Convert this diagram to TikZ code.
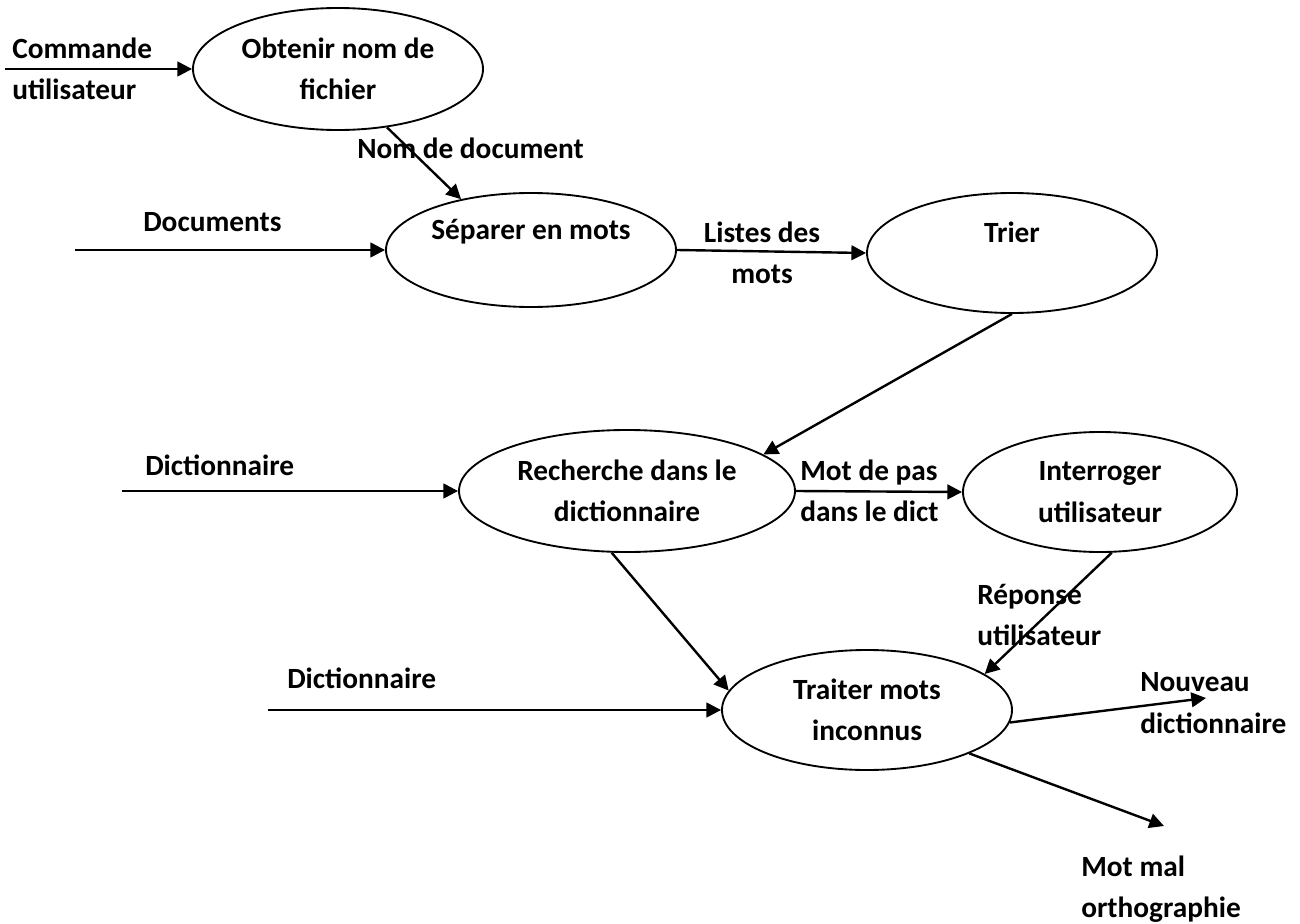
\documentclass[tikz,border=0pt]{standalone}
\usepackage{fontspec}
\setmainfont{Carlito}
\usetikzlibrary{shapes.geometric,arrows.meta}
\begin{document}
\begin{tikzpicture}[x=0.75pt,y=-0.75pt,
  every node/.style={font=\fontsize{22}{31}\selectfont\bfseries},
  proc/.style 2 args={ellipse,draw,line width=1.4pt,inner sep=0pt,
    minimum width={#1*1.5pt},minimum height={#2*1.5pt},align=center},
  flow/.style={line width=1.8pt,-{Triangle[length=11pt,width=11pt]}},
  lbl/.style={align=left,anchor=west,inner sep=0pt}]
\useasboundingbox (0,0) rectangle (1300,924);

% processes
\node[proc={145}{61}] (obtenir)    at (338,69)  {Obtenir nom de\\fichier};
\node[proc={145}{57}] (separer)    at (531,250) {Séparer en mots\\\mbox{}};
\node[proc={145}{60}] (trier)      at (1012,253) {Trier\\\mbox{}};
\node[proc={168}{61}] (recherche)  at (627,491) {Recherche dans le\\dictionnaire};
\node[proc={137}{60}] (interroger) at (1100,492) {Interroger\\utilisateur};
\node[proc={145}{60}] (traiter)    at (867,710) {Traiter mots\\inconnus};

% free ends of the flows
\coordinate (in-cmd)      at (5,69);
\coordinate (in-docs)     at (75,250);
\coordinate (in-dict1)    at (122,491);
\coordinate (in-dict2)    at (268,710);
\coordinate (out-nouveau) at (1206,698);
\coordinate (out-motmal)  at (1164,826);

% flows
\draw[flow] (in-cmd) -- (obtenir.west);
\draw[flow] (obtenir.-50) -- (separer.144);
\draw[flow] (in-docs) -- (separer.west);
\draw[flow] (separer.east) -- (trier.west);
\draw[flow] (trier.south) -- (recherche.15);
\draw[flow] (in-dict1) -- (recherche.west);
\draw[flow] (recherche.east) -- (interroger.west);
\draw[flow] (interroger.-79) -- (traiter.17);
\draw[flow] (recherche.-104) -- (traiter.172);
\draw[flow] (in-dict2) -- (traiter.west);
\draw[flow] (traiter.-5) -- (out-nouveau);
\draw[flow] (traiter.-23) -- (out-motmal);

% flow labels
\node[lbl] (l-cmd)     at (12,69)   {Commande\\utilisateur};
\node[lbl] (l-nom)     at (357,148) {Nom de document};
\node[lbl] (l-docs)    at (143,222) {Documents};
\node[align=center,inner sep=0pt] (l-listes) at (762,253) {Listes des\\mots};
\node[lbl] (l-dict1)   at (145,465) {Dictionnaire};
\node[lbl] (l-motpas)  at (800,491) {Mot de pas\\dans le dict};
\node[lbl] (l-rep)     at (977,615) {Réponse\\utilisateur};
\node[lbl] (l-dict2)   at (287,678) {Dictionnaire};
\node[lbl] (l-nouveau) at (1140,703) {Nouveau\\dictionnaire};
\node[lbl] (l-motmal)  at (1081,889) {Mot mal\\orthographie};
\end{tikzpicture}
\end{document}
